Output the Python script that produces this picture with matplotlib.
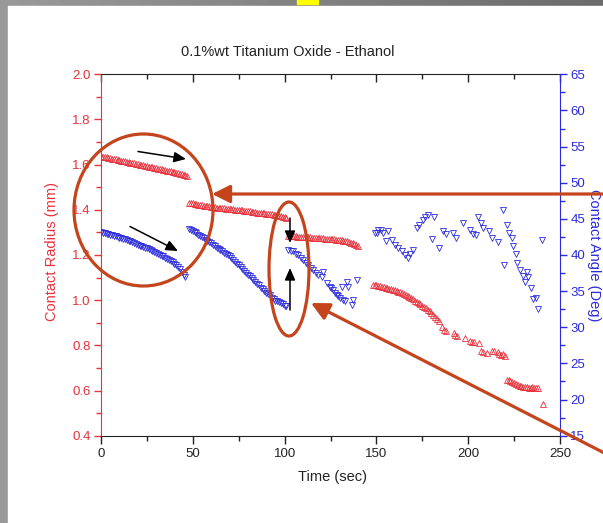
import numpy as np
import matplotlib.pyplot as plt
from matplotlib.patches import Ellipse, Rectangle
from matplotlib.ticker import MultipleLocator

plt.rcParams['font.family'] = ['Liberation Sans', 'DejaVu Sans']

# contact radius (mm), left axis
rad_t1 = [0, 1, 2, 3, 4, 5, 6, 7, 8, 9, 10, 11, 12, 13, 14, 15, 16, 17, 18, 19, 20, 21, 22, 23,
          24, 25, 26, 27, 28, 29, 30, 31, 32, 33, 34, 35, 36, 37, 38, 39, 40, 41, 42, 43, 44, 45, 46, 47]
rad_r1 = [1.638, 1.636, 1.634, 1.633, 1.631, 1.629, 1.627, 1.626, 1.624, 1.622, 1.620, 1.618,
          1.617, 1.615, 1.613, 1.611, 1.609, 1.608, 1.606, 1.604, 1.602, 1.600, 1.599, 1.597,
          1.595, 1.593, 1.591, 1.590, 1.588, 1.586, 1.584, 1.582, 1.581, 1.579, 1.577, 1.575,
          1.573, 1.572, 1.570, 1.568, 1.566, 1.564, 1.562, 1.560, 1.558, 1.555, 1.552, 1.549]
rad_t2 = [48, 49, 50, 51, 52, 53, 54, 55, 56, 57, 58, 59, 60, 61, 62, 63, 64, 65, 66, 67, 68, 69,
          70, 71, 72, 73, 74, 75, 76, 77, 78, 79, 80, 81, 82, 83, 84, 85, 86, 87, 88, 89, 90, 91,
          92, 93, 94, 95, 96, 97, 98, 99, 100, 101]
rad_r2 = [1.432, 1.430, 1.429, 1.427, 1.426, 1.423, 1.422, 1.420, 1.419, 1.417, 1.416, 1.415,
          1.414, 1.413, 1.411, 1.410, 1.409, 1.408, 1.408, 1.407, 1.405, 1.405, 1.404, 1.403,
          1.402, 1.401, 1.401, 1.400, 1.399, 1.398, 1.397, 1.396, 1.395, 1.393, 1.392, 1.391,
          1.389, 1.388, 1.388, 1.386, 1.385, 1.384, 1.383, 1.383, 1.381, 1.380, 1.378, 1.377,
          1.376, 1.374, 1.372, 1.370, 1.367, 1.365]
rad_t3 = [102, 103, 104, 105, 106, 107, 108, 109, 110, 111, 112, 113, 114, 115, 116, 117, 118,
          119, 120, 121, 122, 123, 124, 125, 126, 127, 128, 129, 130, 131, 132, 133, 134, 135,
          136, 137, 138, 139, 140]
rad_r3 = [1.284, 1.283, 1.283, 1.282, 1.282, 1.281, 1.281, 1.280, 1.280, 1.279, 1.279, 1.278,
          1.278, 1.277, 1.277, 1.276, 1.276, 1.275, 1.275, 1.274, 1.273, 1.272, 1.272, 1.271,
          1.270, 1.269, 1.268, 1.267, 1.266, 1.265, 1.264, 1.262, 1.260, 1.258, 1.255, 1.252,
          1.248, 1.244, 1.240]
rad_t4 = [148, 149, 150, 151, 152, 153, 154, 155, 156, 157, 158, 159, 160, 161, 162, 163, 164,
          165, 166, 167, 168, 169, 170, 171, 172, 173, 174, 175, 176, 177, 178, 179, 180, 181,
          182, 183, 184, 186, 187, 188, 192, 193, 194, 198, 201, 202, 203, 206, 207, 208, 210,
          213, 214, 216, 217, 218, 219, 220]
rad_r4 = [1.067, 1.066, 1.065, 1.063, 1.061, 1.059, 1.057, 1.055, 1.052, 1.050, 1.048, 1.045,
          1.043, 1.041, 1.038, 1.035, 1.032, 1.028, 1.024, 1.020, 1.015, 1.010, 1.004, 0.998,
          0.993, 0.988, 0.982, 0.976, 0.970, 0.964, 0.957, 0.950, 0.943, 0.935, 0.926, 0.918,
          0.910, 0.880, 0.868, 0.862, 0.853, 0.848, 0.843, 0.831, 0.818, 0.815, 0.813, 0.809,
          0.773, 0.770, 0.766, 0.776, 0.775, 0.772, 0.760, 0.757, 0.762, 0.754]
rad_t5 = [221, 222, 223, 224, 225, 226, 227, 228, 229, 230, 231, 232, 233, 234, 235, 236, 237,
          238, 240.5]
rad_r5 = [0.648, 0.645, 0.642, 0.638, 0.634, 0.628, 0.625, 0.622, 0.620, 0.617, 0.615, 0.614,
          0.613, 0.612, 0.614, 0.612, 0.611, 0.609, 0.540]

# contact angle (deg), right axis
ang_t1 = rad_t1[:47]
ang_d1 = [43.2, 43.1, 43.0, 42.9, 42.9, 42.8, 42.7, 42.6, 42.6, 42.5, 42.4, 42.3, 42.2, 42.2,
          42.1, 42.0, 41.9, 41.8, 41.6, 41.5, 41.4, 41.3, 41.2, 41.1, 41.0, 40.9, 40.8, 40.7,
          40.6, 40.4, 40.3, 40.2, 40.0, 39.9, 39.8, 39.6, 39.5, 39.3, 39.2, 39.0, 38.8, 38.6,
          38.3, 38.0, 37.7, 37.3, 36.9]
ang_t2 = rad_t2
ang_d2 = [43.6, 43.5, 43.3, 43.2, 43.0, 42.8, 42.6, 42.5, 42.3, 42.1, 41.9, 41.8, 41.6, 41.4,
          41.2, 41.0, 40.8, 40.7, 40.5, 40.3, 40.1, 40.0, 39.8, 39.6, 39.3, 39.1, 38.8, 38.6,
          38.3, 38.1, 37.8, 37.5, 37.3, 37.1, 36.8, 36.6, 36.3, 36.0, 35.8, 35.5, 35.3, 35.0,
          34.8, 34.6, 34.4, 34.1, 33.9, 33.7, 33.6, 33.5, 33.3, 33.2, 33.0, 32.9]
ang_t3 = [102, 103.5, 104.7, 106, 107.5, 109, 110.2, 111.5, 112.9, 114.2, 115.6, 117, 118.4,
          120.2, 121.1, 122.9, 124.7, 125.5, 126.5, 127.5, 128.4, 129.3, 130.2, 131.1, 132, 133,
          133.8, 134.7, 136.5, 137.4, 139.6]
ang_d3 = [40.7, 40.6, 40.5, 40.2, 40.0, 39.6, 39.3, 38.9, 38.6, 38.2, 37.9, 37.5, 37.2, 37.0,
          37.7, 36.1, 35.6, 35.4, 35.2, 34.8, 34.5, 34.3, 34.1, 35.6, 33.8, 33.7, 36.2, 35.6,
          33.1, 33.8, 36.5]
ang_t4 = [149.2, 150.2, 151, 152.5, 153.8, 156.5, 155.2, 158.3, 160.1, 162, 163.8, 165.6, 167.4,
          168.3, 170.1, 171.9, 173.4, 175.2, 176.5, 178.3, 181.4, 180.1, 184.3, 186.4, 187.9,
          191.5, 193.4, 197, 201, 202.8, 204.2, 205.5, 206.8, 208.2, 211.5, 212.8, 216.4, 218.8,
          221, 222.4, 223.7, 224.6, 226, 226.8, 228.2, 219.7, 229.7, 231.8, 232.7, 230.9, 234,
          235.5, 237, 238.2, 240]
ang_d4 = [43.1, 43.0, 43.5, 43.4, 43.0, 43.3, 41.9, 42.1, 41.4, 40.9, 40.5, 40.0, 39.6, 40.1,
          40.7, 43.7, 44.2, 44.8, 45.2, 45.6, 45.2, 42.2, 41.0, 43.3, 42.9, 43.0, 42.4, 44.4,
          43.5, 42.9, 42.7, 45.3, 44.4, 43.7, 43.3, 42.3, 41.8, 46.2, 44.1, 43.1, 42.3, 41.3,
          40.1, 38.9, 37.9, 38.6, 37.1, 37.7, 37.0, 36.3, 35.5, 33.9, 34.1, 32.5, 42.1]

rad_t = rad_t1 + rad_t2 + rad_t3 + rad_t4 + rad_t5
rad_mm = rad_r1 + rad_r2 + rad_r3 + rad_r4 + rad_r5
ang_t = ang_t1 + ang_t2 + ang_t3 + ang_t4
ang_deg = ang_d1 + ang_d2 + ang_d3 + ang_d4

red = '#e8323c'
blue = '#2b2bdc'
orange = '#c4441c'
W, H = 603, 523

fig = plt.figure(figsize=(W / 100, H / 100), dpi=100)

# slide background
bg = fig.add_axes([0, 0, 1, 1], zorder=-10)
grad = np.linspace(0.6, 0.42, 200).reshape(1, -1)
bg.imshow(grad, extent=[0, W, H, 0], aspect='auto', cmap='gray', vmin=0, vmax=1)
bg.add_patch(Rectangle((8, 6), W - 8, H - 6, color='white'))
bg.add_patch(Rectangle((297, 0), 21, 3.5, color='#ffff00'))
bg.set_xlim(0, W)
bg.set_ylim(H, 0)
bg.axis('off')

ax = fig.add_axes([101 / W, 1 - 435.7 / H, 459 / W, 361.4 / H])
ax.patch.set_alpha(0)
ax2 = ax.twinx()

ax.plot(rad_t, rad_mm, ls='none', marker='^', ms=4.2, mfc='none', mec=red, mew=0.6)
ax2.plot(ang_t, ang_deg, ls='none', marker='v', ms=4.4, mfc='none', mec=blue, mew=0.6)

ax.set_xlim(0, 250)
ax.set_ylim(0.4, 2.0)
ax2.set_ylim(15, 65)
ax.xaxis.set_major_locator(MultipleLocator(50))
ax.xaxis.set_minor_locator(MultipleLocator(25))
ax.yaxis.set_major_locator(MultipleLocator(0.2))
ax.yaxis.set_minor_locator(MultipleLocator(0.1))
ax2.yaxis.set_major_locator(MultipleLocator(5))
ax2.yaxis.set_minor_locator(MultipleLocator(2.5))
ax.yaxis.set_major_formatter(plt.FormatStrFormatter('%.1f'))

ax.tick_params(axis='x', which='both', direction='out', colors='#222222', labelsize=9.5, pad=3)
ax.tick_params(axis='x', which='major', length=5.5, width=1)
ax.tick_params(axis='x', which='minor', length=3.5, width=1)
ax.tick_params(axis='y', which='both', direction='out', colors=red, labelsize=9.5, pad=2.5, width=1)
ax.tick_params(axis='y', which='major', length=5)
ax.tick_params(axis='y', which='minor', length=3.5)
ax2.tick_params(axis='y', which='both', direction='out', colors=blue, labelsize=9.5, pad=2.5, width=1)
ax2.tick_params(axis='y', which='major', length=5)
ax2.tick_params(axis='y', which='minor', length=3.5)

top = ax.secondary_xaxis('top')
top.xaxis.set_major_locator(MultipleLocator(50))
top.xaxis.set_minor_locator(MultipleLocator(25))
top.tick_params(which='both', direction='in', labeltop=False, colors='#222222', width=1)
top.tick_params(which='major', length=5.5)
top.tick_params(which='minor', length=3.5)
top.spines['top'].set_visible(False)

ax.spines['right'].set_visible(False)
ax.spines['left'].set_color(red)
ax.spines['bottom'].set_color('#222222')
ax.spines['top'].set_color('#222222')
for s in ['left', 'top', 'bottom']:
    ax2.spines[s].set_visible(False)
ax2.spines['right'].set_color(blue)

fig.text(288 / W, 1 - 52 / H, '0.1%wt Titanium Oxide - Ethanol', ha='center', va='center',
         fontsize=10.5, color='#222222')
fig.text(332 / W, 1 - 477 / H, 'Time (sec)', ha='center', va='center', fontsize=10.5,
         color='#222222')
fig.text(52 / W, 1 - 252 / H, 'Contact Radius (mm)', ha='center', va='center', rotation=90,
         fontsize=10.5, color=red)
fig.text(594 / W, 1 - 255 / H, 'Contact Angle (Deg)', ha='center', va='center', rotation=270,
         fontsize=10.5, color=blue)

# annotations on top, in pixel coordinates
ov = fig.add_axes([0, 0, 1, 1], zorder=20)
ov.patch.set_visible(False)
ov.set_xlim(0, W)
ov.set_ylim(H, 0)
ov.axis('off')

ov.add_patch(Ellipse((143.5, 210), 139, 152, fill=False, ec=orange, lw=2.3))
ov.add_patch(Ellipse((289, 269), 40, 134, fill=False, ec=orange, lw=2.3))

big = dict(arrowstyle='-|>,head_length=0.9,head_width=0.45', color=orange, lw=2.3,
           shrinkA=0, shrinkB=0, mutation_scale=12)
ov.annotate('', xy=(212, 194), xytext=(620, 194), arrowprops=big)
ov.annotate('', xy=(311, 303), xytext=(620, 461), arrowprops=big)

small = dict(arrowstyle='-|>,head_length=0.8,head_width=0.35', color='black', lw=1.1,
             shrinkA=0, shrinkB=0, mutation_scale=9)
ov.annotate('', xy=(186, 159), xytext=(138, 151.5), arrowprops=small)
ov.annotate('', xy=(178, 251), xytext=(130, 226.5), arrowprops=small)
ov.annotate('', xy=(290, 243), xytext=(290, 218), arrowprops=small)
ov.annotate('', xy=(290, 268), xytext=(290, 310), arrowprops=small)

fig.savefig('out.png', dpi=100)
